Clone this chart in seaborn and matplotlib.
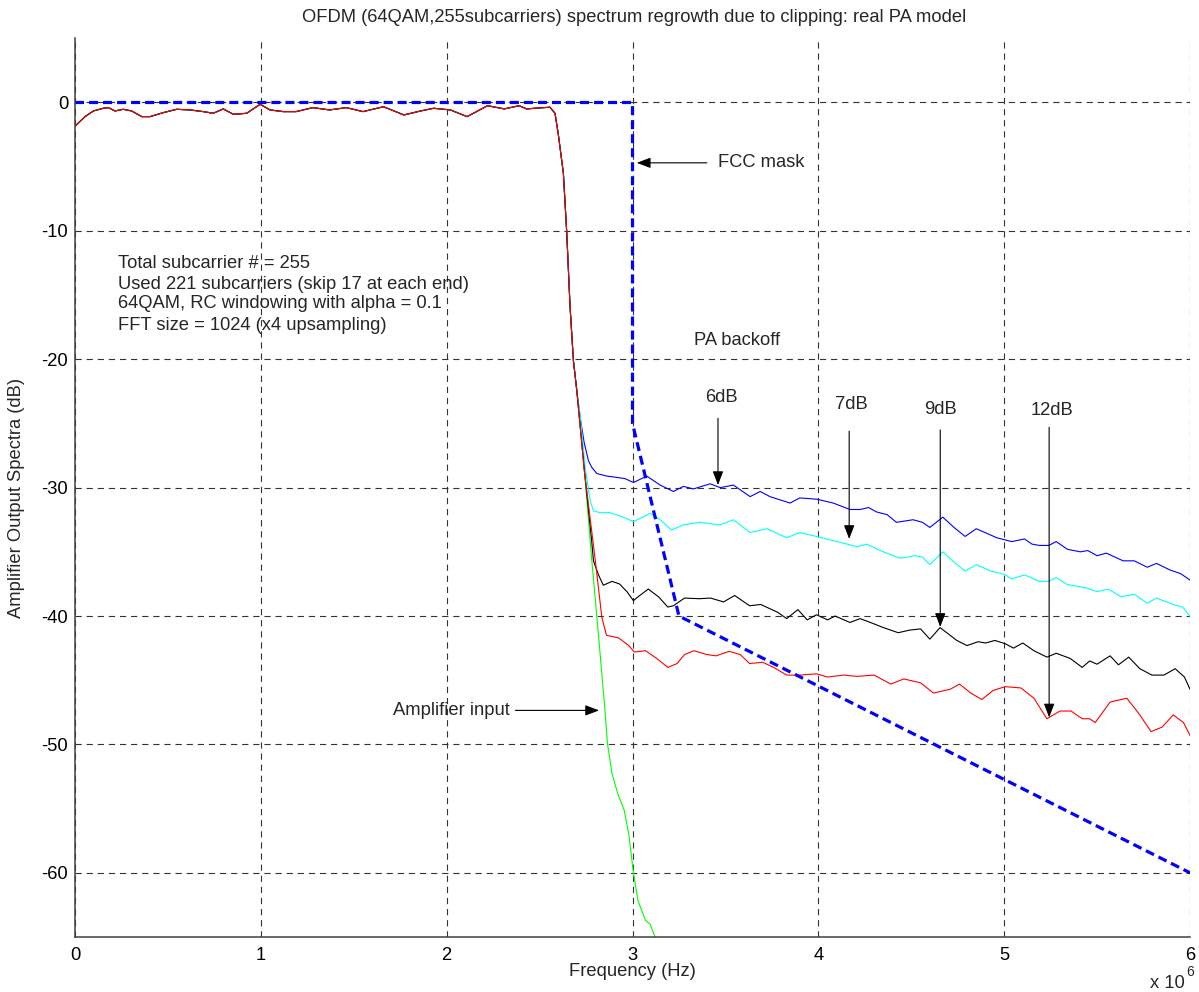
import numpy as np
import pandas as pd
import matplotlib
matplotlib.use("Agg")
import matplotlib.pyplot as plt
from matplotlib.ticker import FuncFormatter, MultipleLocator
import seaborn as sns

# ---------------- data (frequency in MHz, level in dB) ----------------
inband_mhz = [0.0, 0.054, 0.099, 0.152, 0.18, 0.215, 0.26, 0.305, 0.359, 0.404, 0.475, 0.547,
              0.619, 0.69, 0.744, 0.798, 0.852, 0.924, 0.996, 1.05, 1.12, 1.19, 1.28, 1.37,
              1.46, 1.55, 1.66, 1.77, 1.86, 1.93, 2.02, 2.11, 2.22, 2.31, 2.39, 2.43, 2.50,
              2.556, 2.583, 2.60, 2.628, 2.646, 2.664, 2.682, 2.70]
inband_db = [-1.85, -1.1, -0.66, -0.45, -0.4, -0.66, -0.53, -0.66, -1.1, -1.1, -0.79, -0.53,
             -0.58, -0.71, -0.84, -0.5, -0.92, -0.84, -0.14, -0.58, -0.71, -0.71, -0.4, -0.58,
             -0.4, -0.71, -0.33, -0.97, -0.66, -0.45, -0.58, -1.1, -0.25, -0.5, -0.25, -0.5, -0.42,
             -0.37, -0.84, -2.4, -5.5, -10.1, -15.9, -20.1, -22.4]

green_mhz = [2.74, 2.78, 2.82, 2.852, 2.865, 2.89, 2.92, 2.955, 2.98, 3.005, 3.03, 3.07, 3.095, 3.135]
green_db = [-28.4, -35.5, -42.0, -47.35, -49.9, -52.3, -53.8, -55.1, -57.0, -60.0, -62.2, -63.7, -64.0, -65.5]

blue_mhz = [2.718, 2.74, 2.763, 2.78, 2.808, 2.862, 2.915, 2.96, 3.005, 3.077, 3.149, 3.22, 3.274,
            3.328, 3.418, 3.472, 3.543, 3.633, 3.687, 3.74, 3.848, 3.90, 3.992, 4.08, 4.17, 4.225,
            4.27, 4.315, 4.37, 4.42, 4.51, 4.56, 4.60, 4.67, 4.73, 4.79, 4.85, 4.96, 5.04, 5.11,
            5.15, 5.19, 5.24, 5.28, 5.34, 5.41, 5.45, 5.50, 5.55, 5.64, 5.70, 5.77, 5.82, 5.89,
            5.95, 6.0]
blue_db = [-24.5, -26.5, -27.9, -28.4, -28.9, -29.1, -29.2, -29.3, -29.6, -29.1, -29.8, -30.3, -29.9,
           -30.1, -29.7, -30.0, -29.8, -30.7, -30.3, -30.7, -31.2, -30.8, -30.9, -31.2, -31.7, -31.7,
           -31.55, -31.9, -32.1, -32.7, -32.5, -32.7, -33.1, -32.3, -33.1, -33.8, -33.2, -33.9, -34.2,
           -34.0, -34.4, -34.5, -34.5, -34.2, -34.8, -35.0, -34.9, -35.3, -35.1, -35.7, -35.7, -36.2,
           -35.9, -36.4, -36.7, -37.2]

cyan_mhz = [2.72, 2.745, 2.772, 2.79, 2.826, 2.879, 2.95, 3.005, 3.095, 3.149, 3.21, 3.274, 3.364,
            3.47, 3.543, 3.633, 3.723, 3.83, 3.90, 3.99, 4.10, 4.21, 4.26, 4.35, 4.44, 4.52, 4.56,
            4.60, 4.67, 4.73, 4.79, 4.85, 4.93, 5.0, 5.04, 5.11, 5.19, 5.24, 5.28, 5.34, 5.44, 5.50,
            5.56, 5.63, 5.70, 5.77, 5.82, 5.91, 5.96, 6.0]
cyan_db = [-24.6, -28.4, -31.0, -31.8, -31.95, -31.95, -32.3, -32.65, -32.0, -32.5, -33.3, -32.9, -32.7,
           -32.9, -32.5, -33.5, -33.2, -33.9, -33.5, -33.8, -34.2, -34.6, -34.4, -35.0, -35.5, -35.3,
           -35.4, -36.0, -35.0, -35.8, -36.5, -36.0, -36.5, -36.75, -37.1, -36.8, -37.3, -37.3, -37.0,
           -37.55, -37.8, -38.1, -37.9, -38.5, -38.3, -39.0, -38.6, -39.1, -39.3, -40.0]

black_mhz = [2.74, 2.78, 2.79, 2.817, 2.843, 2.89, 2.93, 2.97, 3.005, 3.03, 3.085, 3.14, 3.19, 3.22,
             3.28, 3.36, 3.42, 3.49, 3.55, 3.63, 3.69, 3.78, 3.83, 3.89, 3.94, 3.99, 4.05, 4.09, 4.17,
             4.225, 4.28, 4.35, 4.43, 4.49, 4.55, 4.60, 4.655, 4.745, 4.80, 4.86, 4.90, 4.95, 5.005,
             5.05, 5.10, 5.16, 5.23, 5.28, 5.355, 5.42, 5.46, 5.50, 5.57, 5.615, 5.67, 5.73, 5.795,
             5.86, 5.92, 5.97, 6.0]
black_db = [-28.5, -34.1, -35.7, -36.8, -37.6, -37.3, -37.5, -38.1, -38.8, -38.5, -37.9, -38.5, -39.3,
            -39.2, -38.6, -38.65, -38.6, -38.9, -38.4, -39.2, -39.1, -39.7, -40.2, -39.5, -40.3, -39.9,
            -40.3, -40.0, -40.5, -40.2, -40.5, -40.9, -41.3, -41.1, -41.0, -41.8, -40.9, -41.9, -42.3,
            -42.0, -42.1, -41.9, -42.15, -42.5, -42.1, -42.7, -43.2, -42.9, -43.3, -44.0, -43.5, -43.75,
            -43.1, -43.8, -43.2, -44.1, -44.6, -44.6, -44.1, -44.75, -45.7]

red_mhz = [2.74, 2.80, 2.835, 2.86, 2.925, 2.98, 3.01, 3.07, 3.13, 3.19, 3.24, 3.28, 3.33, 3.40, 3.45,
           3.52, 3.58, 3.63, 3.70, 3.76, 3.83, 3.90, 3.99, 4.05, 4.135, 4.21, 4.30, 4.39, 4.46, 4.55,
           4.62, 4.71, 4.76, 4.82, 4.88, 4.94, 5.005, 5.09, 5.16, 5.23, 5.30, 5.36, 5.42, 5.46, 5.49,
           5.57, 5.66, 5.73, 5.79, 5.85, 5.91, 5.965, 6.0]
red_db = [-28.6, -35.7, -40.1, -41.5, -41.7, -42.3, -42.8, -42.7, -43.3, -44.0, -43.7, -43.0, -42.7,
          -43.0, -43.1, -42.75, -43.0, -43.7, -43.6, -44.0, -44.6, -44.6, -44.5, -44.75, -44.6, -44.7,
          -44.6, -45.3, -44.9, -45.2, -46.0, -45.7, -45.3, -46.0, -46.5, -45.8, -45.5, -45.6, -46.4,
          -48.0, -47.4, -47.4, -48.0, -48.0, -48.3, -46.7, -46.4, -47.7, -49.0, -48.65, -47.7, -48.3,
          -49.3]

mask_mhz = [0.0, 3.0, 3.0, 3.25, 6.0]
mask_db = [0.0, 0.0, -25.0, -40.0, -60.0]

curve_names = ["Amplifier input", "6dB", "7dB", "9dB", "12dB"]
curve_colors = ["#00ff00", "#0000ff", "#00ffff", "#000000", "#ff0000"]
tails = {
    "Amplifier input": (green_mhz, green_db),
    "6dB": (blue_mhz, blue_db),
    "7dB": (cyan_mhz, cyan_db),
    "9dB": (black_mhz, black_db),
    "12dB": (red_mhz, red_db),
}

info_lines = ["Total subcarrier # = 255",
              "Used 221 subcarriers (skip 17 at each end)",
              "64QAM, RC windowing with alpha = 0.1",
              "FFT size = 1024 (x4 upsampling)"]

# ---------------- build long table ----------------
rows = []
for name in curve_names:
    fx, fy = tails[name]
    xs = list(inband_mhz) + list(fx)
    ys = list(inband_db) + list(fy)
    for i, (a, b) in enumerate(zip(xs, ys)):
        rows.append({"freq": a * 1e6, "level": b, "curve": name, "order": i})
df = pd.DataFrame(rows)
mask_df = pd.DataFrame({"freq": np.array(mask_mhz) * 1e6, "level": mask_db})

# ---------------- style ----------------
sns.set_theme(style="white")
plt.rcParams["font.family"] = ["Liberation Sans", "DejaVu Sans"]
plt.rcParams["lines.scale_dashes"] = False
FS = 13.2

fig = plt.figure(figsize=(11.99, 9.92), dpi=100)
W, H = 1199, 992
ax = fig.add_axes([75 / W, 1 - 937 / H, (1190 - 75) / W, (937 - 38.3) / H])

sns.lineplot(data=df, x="freq", y="level", hue="curve", hue_order=curve_names,
             palette=curve_colors, estimator=None, sort=False, units="curve",
             linewidth=0.8, legend=False, ax=ax)
sns.lineplot(data=mask_df, x="freq", y="level", color="#0000ff", linewidth=2.3,
             estimator=None, sort=False, ax=ax, dashes=False)
ax.lines[-1].set_dashes((6.5, 3.6))

ax.set_xlim(0, 6e6)
ax.set_ylim(-65, 5)
ax.xaxis.set_major_locator(MultipleLocator(1e6))
ax.set_yticks([-60, -50, -40, -30, -20, -10, 0])
ax.xaxis.set_major_formatter(FuncFormatter(lambda v, p: f"{v / 1e6:g}"))
ax.yaxis.set_major_formatter(FuncFormatter(lambda v, p: f"{v:g}"))
ax.set_xlabel("")
ax.set_ylabel("")

ax.grid(True, color="#333333", linestyle=(0, (4.5, 3.5)), linewidth=0.8)
ax.set_axisbelow(True)
for s in ["top", "right"]:
    ax.spines[s].set_visible(False)
for s in ["left", "bottom"]:
    ax.spines[s].set_color("#404040")
    ax.spines[s].set_linewidth(1.1)
ax.tick_params(direction="in", length=3.5, width=0.9, color="#404040",
               labelsize=FS, pad=5, labelcolor="black")
ax.tick_params(axis="x", pad=7)
ax.set_facecolor("white")

# ---------------- annotations ----------------
arrow_kw = dict(arrowstyle="-|>,head_length=0.42,head_width=0.16", color="black",
                lw=0.8, mutation_scale=20, shrinkA=0, shrinkB=0)

ax.annotate("", xy=(3.023e6, -4.7), xytext=(3.40e6, -4.7), arrowprops=arrow_kw)
ax.text(3.46e6, -4.7, "FCC mask", ha="left", va="center", fontsize=FS)

ax.annotate("", xy=(2.82e6, -47.35), xytext=(2.37e6, -47.35), arrowprops=arrow_kw)
ax.text(1.71e6, -47.35, "Amplifier input", ha="left", va="center", fontsize=FS)

ax.text(3.56e6, -18.5, "PA backoff", ha="center", va="center", fontsize=FS)

backoff_labels = ["6dB", "7dB", "9dB", "12dB"]
label_x = [3.48e6, 4.18e6, 4.655e6, 5.26e6]
label_y = [-23.0, -23.5, -23.9, -24.0]
arrow_x = [3.46e6, 4.166e6, 4.656e6, 5.242e6]
arrow_top = [-24.6, -25.6, -25.5, -25.3]
arrow_tip = [-29.8, -34.0, -40.85, -47.9]
for lab, lx, ly, axx, at, tip in zip(backoff_labels, label_x, label_y, arrow_x, arrow_top, arrow_tip):
    ax.text(lx, ly, lab, ha="center", va="center", fontsize=FS)
    ax.annotate("", xy=(axx, tip), xytext=(axx, at), arrowprops=arrow_kw)

info_y = [-12.53, -14.2, -15.67, -17.4]
for line, yy in zip(info_lines, info_y):
    ax.text(0.233e6, yy, line, ha="left", va="center", fontsize=FS)

# ---------------- titles / labels ----------------
fig.text(634 / W, 1 - 18 / H, "OFDM (64QAM,255subcarriers) spectrum regrowth due to clipping: real PA model",
         ha="center", va="center", fontsize=FS)
fig.text(632 / W, 1 - 972 / H, "Frequency (Hz)", ha="center", va="center", fontsize=FS)
fig.text(17 / W, 1 - 498 / H, "Amplifier Output Spectra (dB)", ha="center", va="center",
         rotation=90, fontsize=FS)
fig.text(1185 / W, 1 - 984 / H, "x 10", ha="right", va="center", fontsize=FS)
fig.text(1186 / W, 1 - 972 / H, "6", ha="left", va="center", fontsize=10)

fig.savefig("out.png", dpi=100, facecolor="white")
